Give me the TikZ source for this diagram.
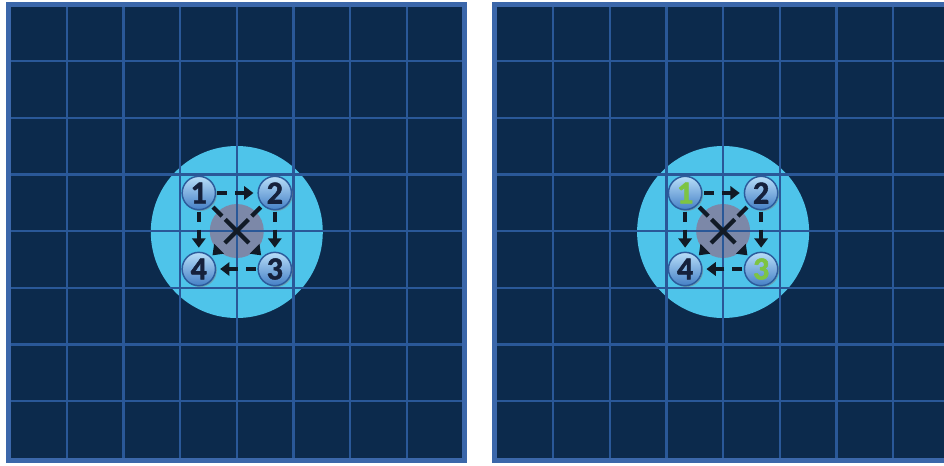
\documentclass[tikz,border=0pt]{standalone}
\usepackage{fontspec}
\newfontfamily\ballfont{Carlito}[BoldFeatures={FakeBold=1.6}]
\usetikzlibrary{arrows.meta,shadows}

\definecolor{navy}{HTML}{0C2A4C}
\definecolor{gridblue}{HTML}{2A5898}
\definecolor{edgeblue}{HTML}{3B67AA}
\definecolor{skyfill}{HTML}{4EC4EA}
\definecolor{greydisc}{HTML}{7C88A8}
\definecolor{arrowink}{HTML}{111A26}
\definecolor{balllight}{HTML}{B8DEF8}
\definecolor{balldark}{HTML}{4580C6}
\definecolor{ballrim}{HTML}{2C5C9C}
\definecolor{numink}{HTML}{15213C}
\definecolor{numgreen}{HTML}{7DC443}

\tikzset{every picture/.style={line width=0.75pt}}
\tikzset{
  ball/.style={circle, minimum size=25pt, inner sep=0pt, outer sep=0pt,
    draw=ballrim, line width=1.1pt, top color=balllight, bottom color=balldark,
    drop shadow={opacity=0.5, shadow xshift=1pt, shadow yshift=-1pt},
    font=\ballfont\bfseries\fontsize{24}{24}\selectfont},
  sidearrow/.style={draw=arrowink, line width=3.2pt, dash pattern=on 7.5pt off 6pt,
    -{Triangle[length=7pt,width=10pt]}, shorten <=1.5pt, shorten >=3.5pt},
  diagarrow/.style={draw=arrowink, line width=3.2pt,
    dash pattern=on 9.5pt off 3.5pt on 25pt off 20pt,
    -{Triangle[length=7pt,width=10pt]}, shorten <=2.5pt, shorten >=2pt},
}

\begin{document}
\begin{tikzpicture}[x=0.75pt,y=0.75pt,yscale=-1,xscale=1]
\useasboundingbox (0,0) rectangle (944,465);
\clip (0,0) rectangle (944,465);

\foreach \o/\p/\ink in {0/l/numink, 486.3/r/numgreen} {
%Shape: Rectangle [panel]
\draw [draw=edgeblue, fill=navy, line width=3.75pt] ({8.5+\o},4.5) rectangle ({464.5+\o},460.5);
%Shape: Circle [zone]
\fill [skyfill] ({236.8+\o},232) circle [radius=86];
%Shape: Circle [centre]
\fill [greydisc] ({236.8+\o},231) circle [radius=27];
%Straight Lines [grid]
\foreach \k in {0,...,6} {
  \draw [gridblue, line width=1.7pt] ({66.7+56.7*\k+\o},7) -- ({66.7+56.7*\k+\o},458);
  \draw [gridblue, line width=1.7pt] ({11+\o},{61+56.7*\k}) -- ({462+\o},{61+56.7*\k});
}

% Ball Nodes
\node [ball] (\p1) at ({198.8+\o},193) {\textcolor{\ink}{1}};
\node [ball] (\p2) at ({274.8+\o},193) {\textcolor{numink}{2}};
\node [ball] (\p3) at ({274.8+\o},269) {\textcolor{\ink}{3}};
\node [ball] (\p4) at ({198.8+\o},269) {\textcolor{numink}{4}};

%Arrows
\draw [sidearrow] (\p1) -- (\p2);
\draw [sidearrow] (\p2) -- (\p3);
\draw [sidearrow] (\p3) -- (\p4);
\draw [sidearrow] (\p1) -- (\p4);
\draw [diagarrow] (\p1) -- (\p3);
\draw [diagarrow] (\p2) -- (\p4);
}

\end{tikzpicture}
\end{document}
